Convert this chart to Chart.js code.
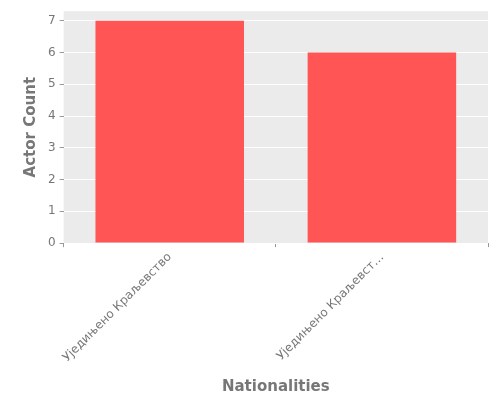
<!DOCTYPE html>
<html><head><meta charset="utf-8">
<script src="https://cdn.jsdelivr.net/npm/chart.js@4"></script>
<style>body{margin:0}#wrap{width:500px;height:400px}</style>
</head><body><div id="wrap"><canvas id="myChart"></canvas></div>
<script>
const labels = ['Уједињено Краљевство', 'Уједињено Краљевст…'];
const counts = [7, 6];

const bgPlugin = {
  id: 'bg',
  beforeDraw(chart) {
    const a = chart.chartArea, c = chart.ctx;
    c.save(); c.fillStyle = '#ebebeb';
    c.fillRect(a.left, a.top, a.right - a.left, a.bottom - a.top);
    c.restore();
  }
};

Chart.defaults.font.family = 'DejaVu Sans';
Chart.defaults.color = '#777';

new Chart(document.getElementById('myChart'), {
  type: 'bar',
  data: { labels: labels, datasets: [{ data: counts, backgroundColor: '#ff5555', barPercentage: 0.7, categoryPercentage: 1 }] },
  options: {
    responsive: true, maintainAspectRatio: false, animation: false,
    layout: { padding: { top: 10, right: 12, left: 18 } },
    plugins: { legend: { display: false }, tooltip: { enabled: false } },
    scales: {
      x: {
        grid: { display: true, drawOnChartArea: false, color: '#999', tickLength: 4 }, border: { display: false },
        ticks: { maxRotation: 45, minRotation: 45, font: { size: 12 } },
        title: { display: true, text: 'Nationalities', font: { size: 15, weight: 'bold' }, padding: { top: 10 } }
      },
      y: {
        min: 0, max: 7.3,
        afterBuildTicks(s) { s.ticks = [0,1,2,3,4,5,6,7].map(v => ({ value: v })); },
        grid: { color: '#fff', lineWidth: 1, tickColor: '#999', tickLength: 4 },
        border: { display: false },
        ticks: { font: { size: 12 }, padding: 4 },
        title: { display: true, text: 'Actor Count', font: { size: 15, weight: 'bold' } }
      }
    }
  },
  plugins: [bgPlugin]
});
</script></body></html>
